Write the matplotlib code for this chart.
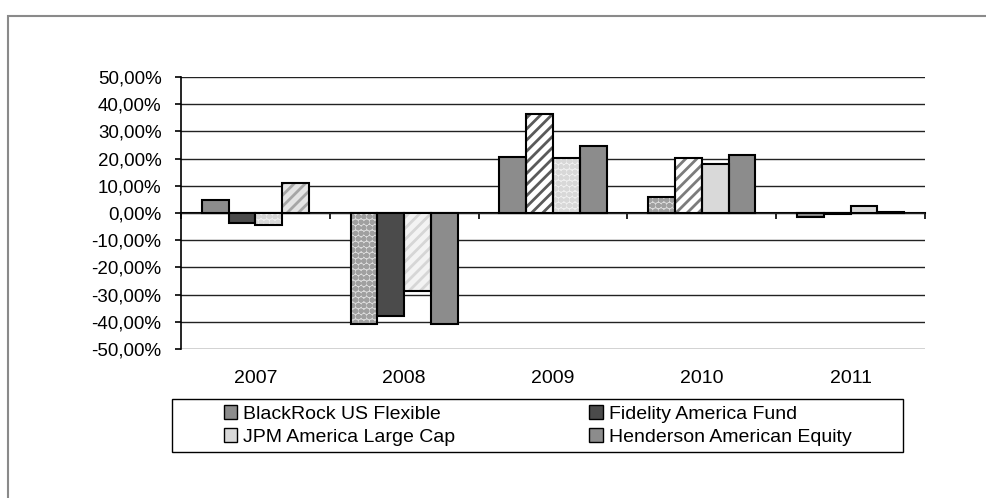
import matplotlib
matplotlib.use('Agg')
import matplotlib.pyplot as plt
from matplotlib.patches import Patch, Rectangle
from matplotlib.ticker import FuncFormatter, MultipleLocator
import numpy as np

# yearly returns in percent
years = ['2007', '2008', '2009', '2010', '2011']
funds = ['BlackRock US Flexible', 'Fidelity America Fund',
         'JPM America Large Cap', 'Henderson American Equity']

blackrock = [4.7, -40.9, 20.7, 5.9, -1.3]
fidelity = [-3.7, -37.9, 36.3, 20.1, -0.3]
jpm = [-4.4, -28.5, 20.1, 17.9, 2.6]
henderson = [11.1, -40.9, 24.6, 21.4, 0.2]

series = [blackrock, fidelity, jpm, henderson]
legend_colors = ['#8c8c8c', '#4b4b4b', '#d9d9d9', '#8c8c8c']

# excel-ish per-point fills: (face, hatch, hatch colour)
MID = ('#8c8c8c', None, None)
DARK = ('#4b4b4b', None, None)
LIGHT = ('#d9d9d9', None, None)
styles = [
    [MID, ('#dcdcdc', 'ooo', '#a0a0a0'), MID, ('#dcdcdc', 'ooo', '#a0a0a0'), MID],
    [DARK, DARK, ('#ffffff', '///', '#5a5a5a'), ('#ffffff', '///', '#7c7c7c'), DARK],
    [('#f0f0f0', 'ooo', '#d8d8d8'), ('#f3f3f3', '///', '#d6d6d6'),
     ('#f0f0f0', 'ooo', '#d8d8d8'), LIGHT, LIGHT],
    [('#e4e4e4', '///', '#a6a6a6'), MID, MID, MID, MID],
]

plt.rcParams['font.family'] = ['Liberation Sans', 'DejaVu Sans']
plt.rcParams['hatch.linewidth'] = 2.0

fig = plt.figure(figsize=(9.86, 4.98), dpi=100)
ax = fig.add_axes([181/986, 1-349/498, (925-181)/986, (349-77)/498])

x = np.arange(len(years))
w = 0.18
for i, vals in enumerate(series):
    pos = x + (i - 1.5) * w
    for j in range(len(years)):
        face, hatch, hc = styles[i][j]
        ax.bar(pos[j], vals[j], w, color=face, hatch=hatch,
               edgecolor=hc or face, linewidth=0, zorder=2)
    ax.bar(pos, vals, w, fill=False, edgecolor='black', linewidth=1.5, zorder=3)

ax.set_xlim(-0.5, len(years) - 0.5)
ax.set_ylim(-50, 50)
ax.yaxis.set_major_locator(MultipleLocator(10))
ax.yaxis.set_major_formatter(FuncFormatter(lambda v, p: ('%.2f%%' % v).replace('.', ',')))
ax.yaxis.grid(True, color='#222222', linewidth=1)
ax.set_axisbelow(True)

for s in ['top', 'right', 'bottom']:
    ax.spines[s].set_visible(False)
ax.spines['left'].set_linewidth(1.2)

ax.set_xticks(x)
ax.set_xticklabels(years)
ax.tick_params(axis='x', length=0, pad=15, labelsize=14)
ax.tick_params(axis='y', length=4, width=1.2, pad=10, labelsize=13.5, direction='out')

# zero line with category dividers
sec = ax.secondary_xaxis(0, transform=ax.transData)
sec.set_xticks(np.arange(len(years) + 1) - 0.5)
sec.tick_params(length=4, width=1.2, direction='out', labelbottom=False)
sec.spines['bottom'].set_linewidth(1.5)

handles = [Patch(facecolor=c, edgecolor='black', linewidth=1) for c in legend_colors]
order = [0, 2, 1, 3]
fig.legend([handles[k] for k in order], [funds[k] for k in order], ncol=2,
           loc='center', bbox_to_anchor=(537.5/986, 1-425.5/498), frameon=False,
           fontsize=14, handlelength=0.7, handleheight=0.7, handletextpad=0.3,
           columnspacing=6.9, borderpad=0, labelspacing=0.3)
fig.add_artist(Rectangle((172/986, 1-452/498), (903-172)/986, 53/498,
                         transform=fig.transFigure, fill=False,
                         edgecolor='black', linewidth=1))
# outer chart border
fig.add_artist(Rectangle((8/986, -0.1), 1.1, 1-16/498+0.1,
                         transform=fig.transFigure, fill=False,
                         edgecolor='#8a8a8a', linewidth=1.5))

plt.savefig('out.png', dpi=100)
